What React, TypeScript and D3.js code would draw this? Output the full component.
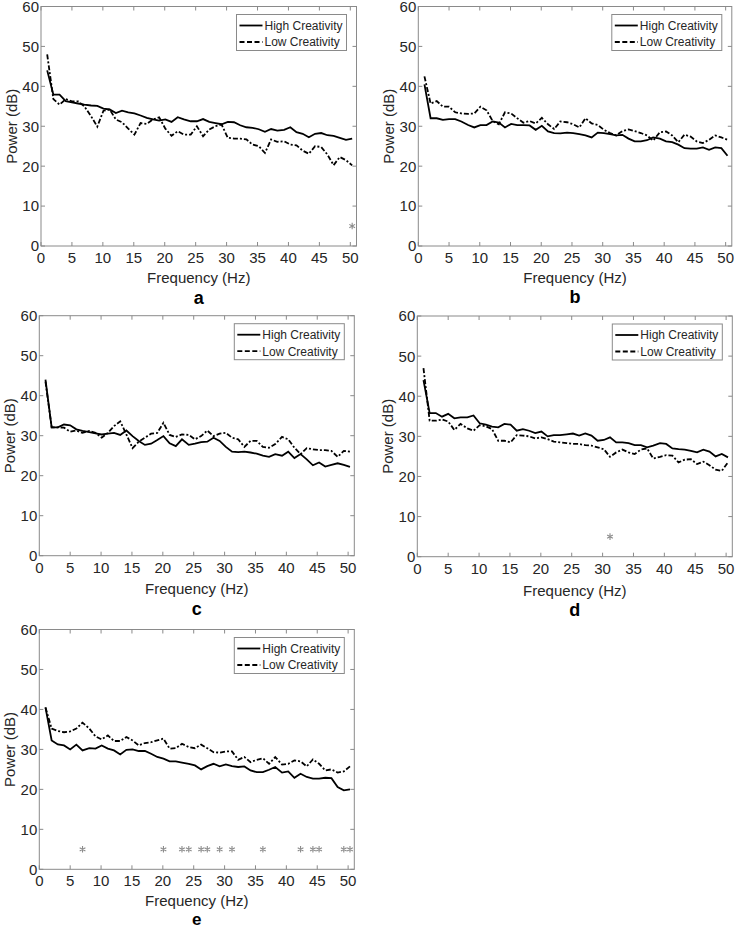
import React from 'react';
import * as d3 from 'd3';

// Frequency bins (Hz)
const freqs = [1.0, 2.0, 3.0, 4.0, 5.0, 6.0, 7.0, 8.1, 9.1, 10.1, 11.1, 12.1, 13.1, 14.1, 15.1, 16.1, 17.1, 18.1, 19.1, 20.1,
  21.1, 22.1, 23.1, 24.2, 25.2, 26.2, 27.2, 28.2, 29.2, 30.2, 31.2, 32.2, 33.2, 34.2, 35.2, 36.2, 37.2, 38.2, 39.3, 40.3,
  41.3, 42.3, 43.3, 44.3, 45.3, 46.3, 47.3, 48.3, 49.3, 50.3];

const xTicks = [0, 5, 10, 15, 20, 25, 30, 35, 40, 45, 50];
const yTicks = [0, 10, 20, 30, 40, 50, 60];
const seriesNames = ['High Creativity', 'Low Creativity'];
const panelLabels = ['a', 'b', 'c', 'd', 'e'];
const xLabel = 'Frequency (Hz)';
const yLabel = 'Power (dB)';

const highA = [44, 37.9, 37.9, 36.3, 36, 35.7, 35.4, 35.2, 35.1, 34.4, 34.2, 33.3, 33.9, 33.5, 33.25, 32.7, 32.1, 31.7, 31.4, 31.7,
  31.1, 32.25, 31.7, 31.25, 31.25, 31.8, 31.1, 30.8, 30.5, 31.1, 31, 30.25, 29.75, 29.6, 29.25, 28.6, 29.3, 28.9, 29.1, 29.75,
  28.5, 28.1, 27.25, 28.1, 28.3, 27.75, 27.6, 27.1, 26.6, 26.9];
const lowA = [48, 36.8, 35.4, 36.8, 36.25, 36.25, 35, 32.5, 29.9, 33.9, 34.2, 31.7, 31, 29.4, 27.9, 30.8, 30.6, 31.7, 32.25, 29.4,
  27.6, 28.75, 27.9, 27.9, 30, 27.5, 29.2, 30, 30.4, 27.1, 26.9, 26.9, 26.7, 25.4, 25, 23.3, 26.7, 26.1, 26.25, 25.4,
  25.2, 23.9, 23.1, 25, 24.8, 22.9, 20.25, 22.3, 21.5, 20.2];

const highB = [40.5, 32, 32, 31.6, 31.8, 31.8, 31.2, 30.3, 29.7, 30.3, 30.3, 31.2, 30.9, 29.7, 30.6, 30.3, 30.3, 30.2, 29.1, 30.1,
  28.7, 28.3, 28.2, 28.4, 28.3, 28, 27.7, 27.2, 28.4, 28.3, 28, 27.7, 27.85, 26.9, 26.2, 26.2, 26.5, 27.2, 26.9, 26.2,
  26, 25.4, 24.5, 24.4, 24.4, 24.7, 24.1, 24.7, 24.5, 22.6];
const lowB = [42.5, 35.7, 36.3, 34.9, 34.9, 33.5, 33.2, 33.1, 33.2, 34.9, 34, 31.3, 30.5, 33.5, 33.2, 32, 30.9, 31.3, 30.7, 32.1,
  30.5, 29.3, 31.2, 31, 30.5, 29.7, 32, 30.7, 30.3, 29.1, 28.3, 27.7, 28.8, 29.2, 28.8, 28.3, 27.7, 26.4, 28.5, 28.7,
  27.7, 26, 27.9, 27.4, 26.2, 25.8, 26.6, 27.7, 27.2, 26.6];

const highC = [44, 32.1, 32.1, 32.8, 32.6, 31.6, 31.2, 30.9, 30.6, 30.3, 30.5, 30.7, 30.2, 31.3, 29.9, 28.7, 27.7, 28, 28.9, 29.9,
  28.1, 27.4, 29.1, 27.7, 28, 28.4, 28.5, 29.5, 28.7, 27.2, 26, 25.9, 26, 25.8, 25.5, 25, 24.7, 25.4, 25, 26,
  24.4, 25.4, 24.1, 22.6, 23.3, 22.3, 22.7, 23.1, 22.7, 22.2];
const lowC = [43.5, 32.1, 32.1, 32, 31, 31.3, 30.7, 31.2, 30.7, 29.5, 30.7, 32.4, 33.6, 30.3, 26.9, 28.5, 29.5, 30.5, 30.7, 33.2,
  30.2, 29.7, 30.3, 30.2, 29.1, 29.9, 31.3, 29.9, 30.5, 30.7, 29.5, 29.1, 27.2, 28.7, 28.7, 27.2, 27, 27.9, 29.7, 29.1,
  27, 25.4, 26.9, 26.6, 26.4, 26.4, 26.2, 24.7, 26.2, 26];

const highD = [44, 35.8, 35.8, 34.9, 35.6, 34.5, 34.75, 34.75, 35.2, 33.25, 32.9, 32.4, 32.25, 33.1, 32.9, 31.4, 31.8, 31.4, 30.8, 31.2,
  30, 30.3, 30.3, 30.5, 30.7, 30.2, 30.75, 30.2, 28.9, 29.1, 29.75, 28.5, 28.5, 28.3, 27.8, 27.8, 27.25, 27.7, 28.3, 28.1,
  27, 26.8, 26.7, 26.4, 26, 26.7, 26.2, 25, 25.6, 24.75];
const lowD = [47, 33.9, 33.9, 34.2, 33.7, 31.6, 33.1, 32, 31.4, 32.8, 32.5, 31.8, 28.9, 28.9, 28.5, 30.3, 30.2, 30, 29.5, 29.75,
  29.3, 28.7, 28.5, 28.3, 28.1, 28.1, 27.8, 27.7, 27.25, 26.8, 24.9, 26, 26.7, 26, 25.6, 26.7, 27, 24.5, 24.9, 25.3,
  25.2, 23.5, 24.2, 24.3, 23.1, 23.7, 22.8, 21.7, 21.4, 23.5];

const highE = [40.5, 32.25, 31.25, 31, 30, 31.2, 29.75, 30.3, 30.2, 31, 30.2, 29.75, 28.75, 29.9, 30, 29.6, 29.6, 28.9, 28.1, 27.7,
  27, 27, 26.7, 26.4, 26, 25, 25.8, 26.4, 25.75, 26.25, 25.8, 25.6, 25.75, 24.75, 24.3, 24.3, 24.9, 25.6, 24.2, 24.5,
  22.9, 23.9, 23.1, 22.7, 22.7, 22.9, 22.8, 20.6, 19.75, 20];
const lowE = [40.5, 35.2, 34.6, 34.3, 34.5, 35.2, 36.7, 35.2, 33.25, 32.5, 33.5, 32.1, 32.1, 33.1, 32.25, 31, 31.6, 31.8, 32.25, 32.7,
  30.2, 30.3, 31.4, 30.6, 30.3, 31.2, 30.3, 29.3, 29.2, 29.5, 29.5, 27.4, 28.1, 26.8, 27.4, 27.8, 26.4, 28.1, 26.2, 26.4,
  27.25, 27, 25.75, 27.5, 26.4, 24.75, 25, 24.2, 24.5, 25.75];

// Significant frequency bins (Hz index) marked with asterisks at 5 dB
const sigA = [50];
const sigB: number[] = [];
const sigC: number[] = [];
const sigD = [31];
const sigE = [7, 20, 23, 24, 26, 27, 29, 31, 36, 42, 44, 45, 49, 50];
const sigLevel = 5;

const highSeries = [highA, highB, highC, highD, highE];
const lowSeries = [lowA, lowB, lowC, lowD, lowE];
const sigSeries = [sigA, sigB, sigC, sigD, sigE];

const panelBoxes = [
  { left: 41, right: 356.5, top: 6.5, bottom: 246, xl: 37, pl: 57.5, ps: 18 },
  { left: 418.3, right: 731.8, top: 6.5, bottom: 246, xl: 37.3, pl: 57.3, ps: 18 },
  { left: 39.3, right: 354.3, top: 315.7, bottom: 555.7, xl: 38.6, pl: 59.5, ps: 18 },
  { left: 417.3, right: 732.3, top: 316, bottom: 556.7, xl: 39.5, pl: 59, ps: 18 },
  { left: 39.3, right: 354.3, top: 629.5, bottom: 869.3, xl: 36.5, pl: 55.2, ps: 17 },
];

const FONT = '"Liberation Sans", Arial, Helvetica, sans-serif';
const AXIS_COLOR = '#8a8a8a';
const TEXT_COLOR = '#262626';
const DASH = '5,2,2,2';

function Panel({ idx }: { idx: number }) {
  const b = panelBoxes[idx];
  const x = d3.scaleLinear().domain([0, 51]).range([b.left, b.right]);
  const y = d3.scaleLinear().domain([0, 60]).range([b.bottom, b.top]);
  const line = d3
    .line<number>()
    .x((_, i) => x(freqs[i]))
    .y((d) => y(d));
  const tl = 4;
  const star = d3.symbol(d3.symbolAsterisk, 30)() as string;
  const legW = 110;
  const legH = 36;
  const legX = b.right - 10 - legW;
  const legY = b.top + 8;
  const cx = (b.left + b.right) / 2;
  const cy = (b.top + b.bottom) / 2;
  return (
    <g>
      <rect x={b.left} y={b.top} width={b.right - b.left} height={b.bottom - b.top} fill="#fff" stroke={AXIS_COLOR} strokeWidth={1} />
      {xTicks.map((t) => (
        <g key={'xt' + t}>
          <line x1={x(t)} x2={x(t)} y1={b.bottom} y2={b.bottom - tl} stroke={AXIS_COLOR} />
          <line x1={x(t)} x2={x(t)} y1={b.top} y2={b.top + tl} stroke={AXIS_COLOR} />
          <text x={x(t)} y={b.bottom + 17} textAnchor="middle" fontSize={15} fill={TEXT_COLOR} fontFamily={FONT}>
            {t}
          </text>
        </g>
      ))}
      {yTicks.map((t) => (
        <g key={'yt' + t}>
          <line x1={b.left} x2={b.left + tl} y1={y(t)} y2={y(t)} stroke={AXIS_COLOR} />
          <line x1={b.right} x2={b.right - tl} y1={y(t)} y2={y(t)} stroke={AXIS_COLOR} />
          <text x={b.left - 2} y={y(t)} dy="0.36em" textAnchor="end" fontSize={15} fill={TEXT_COLOR} fontFamily={FONT}>
            {t}
          </text>
        </g>
      ))}
      <path d={line(lowSeries[idx]) || ''} fill="none" stroke="#000" strokeWidth={1.8} strokeDasharray={DASH} />
      <path d={line(highSeries[idx]) || ''} fill="none" stroke="#000" strokeWidth={1.8} />
      {sigSeries[idx].map((f) => (
        <path key={'s' + f} d={star} transform={`translate(${x(freqs[f - 1])},${y(sigLevel)})`} fill="none" stroke="#8c8c8c" strokeWidth={1.1} />
      ))}
      <rect x={legX} y={legY} width={legW} height={legH} fill="#fff" stroke={AXIS_COLOR} strokeWidth={1} />
      {seriesNames.map((n, i) => (
        <g key={n}>
          <line x1={legX + 3} x2={legX + 26} y1={legY + 11 + i * 16.5} y2={legY + 11 + i * 16.5} stroke="#000" strokeWidth={1.8}
            strokeDasharray={i === 1 ? '5,2.5' : undefined} />
          <text x={legX + 28} y={legY + 11 + i * 16.5} dy="0.36em" fontSize={12} fill={TEXT_COLOR} fontFamily={FONT}>
            {n}
          </text>
        </g>
      ))}
      <text x={cx} y={b.bottom + b.xl} textAnchor="middle" fontSize={15} fill={TEXT_COLOR} fontFamily={FONT}>
        {xLabel}
      </text>
      <text transform={`translate(${b.left - 24.5},${cy}) rotate(-90)`} textAnchor="middle" fontSize={15} fill={TEXT_COLOR} fontFamily={FONT}>
        {yLabel}
      </text>
      <text x={cx} y={b.bottom + b.pl} textAnchor="middle" fontSize={b.ps} fontWeight="bold" fill="#000" fontFamily={FONT}>
        {panelLabels[idx]}
      </text>
    </g>
  );
}

export default function App() {
  return (
    <svg width={738} height={927} style={{ position: 'absolute', left: 0, top: 0, background: '#fff' }}>
      <rect width={738} height={927} fill="#fff" />
      {panelBoxes.map((_, i) => (
        <Panel key={i} idx={i} />
      ))}
    </svg>
  );
}
